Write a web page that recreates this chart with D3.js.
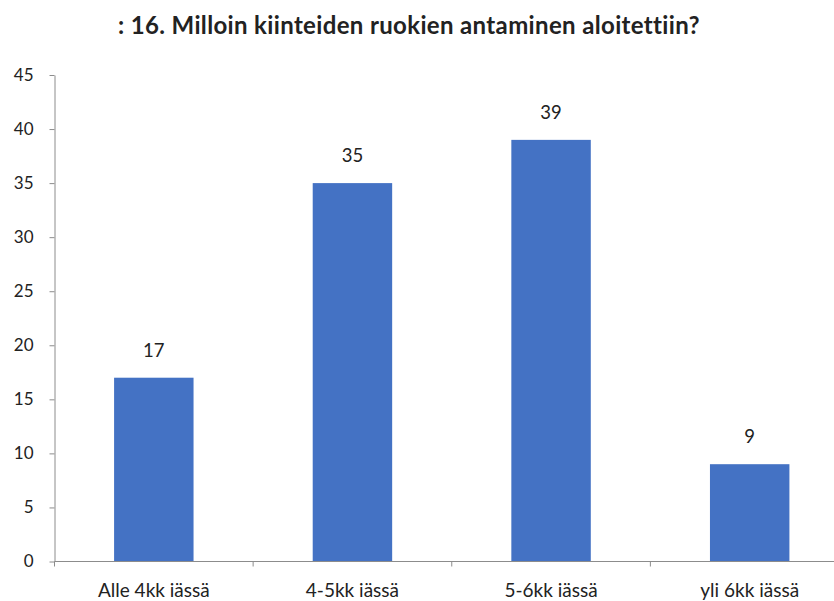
<!DOCTYPE html>
<html>
<head>
<meta charset="utf-8">
<script src="https://cdn.jsdelivr.net/npm/d3@7"></script>
<style>
  html, body { margin: 0; padding: 0; background: #ffffff; }
  svg { display: block; }
  text { font-family: Lato, "Open Sans", sans-serif; fill: #222; }
</style>
</head>
<body>
<script>
// Survey question and answer categories
const title = ": 16. Milloin kiinteiden ruokien antaminen aloitettiin?";
const categories = ["Alle 4kk iässä", "4-5kk iässä", "5-6kk iässä", "yli 6kk iässä"];
const values = [17, 35, 39, 9];
const yTicks = [0, 5, 10, 15, 20, 25, 30, 35, 40, 45];

const W = 834, H = 601;
const margin = { left: 54.5, top: 75, bottom: 39.5 };
const plotRight = 849;

const svg = d3.select("body").append("svg")
  .attr("width", W).attr("height", H);

const x = d3.scaleBand()
  .domain(categories)
  .range([margin.left, plotRight])
  .paddingInner(0.6)
  .paddingOuter(0.3);

const y = d3.scaleLinear()
  .domain([0, 45])
  .range([H - margin.bottom, margin.top]);

// Title
svg.append("text")
  .attr("x", 409)
  .attr("y", 34)
  .attr("text-anchor", "middle")
  .style("font-size", "24px")
  .style("font-weight", "bold")
  .style("letter-spacing", "0.35px")
  .text(title);

// Bars
svg.append("g").selectAll("rect")
  .data(values)
  .join("rect")
  .attr("x", (d, i) => x(categories[i]))
  .attr("width", x.bandwidth())
  .attr("y", d => y(d))
  .attr("height", d => y(0) - y(d))
  .attr("fill", "#4472C4");

// Value labels above bars
svg.append("g").selectAll("text")
  .data(values)
  .join("text")
  .attr("x", (d, i) => x(categories[i]) + x.bandwidth() / 2)
  .attr("y", d => y(d) - 21)
  .attr("text-anchor", "middle")
  .style("font-size", "18.5px")
  .text(d => d);

const axisColor = "#8c8c8c";

// Y axis
const yAxis = svg.append("g")
  .attr("transform", `translate(${margin.left},0)`)
  .call(d3.axisLeft(y).tickValues(yTicks).tickSize(5).tickPadding(16).tickSizeOuter(0));
yAxis.select(".domain").attr("stroke", axisColor);
yAxis.selectAll(".tick line").attr("stroke", axisColor);
yAxis.selectAll(".tick text").style("font-size", "17px").attr("fill", "#222");

// X axis with ticks at category boundaries
const xAxisG = svg.append("g")
  .attr("transform", `translate(0,${y(0)})`);
xAxisG.append("line")
  .attr("x1", margin.left).attr("x2", plotRight)
  .attr("stroke", axisColor);
const step = (plotRight - margin.left) / categories.length;
xAxisG.selectAll("line.tick")
  .data(d3.range(categories.length + 1))
  .join("line")
  .attr("class", "tick")
  .attr("x1", i => margin.left + i * step)
  .attr("x2", i => margin.left + i * step)
  .attr("y1", 0).attr("y2", 5)
  .attr("stroke", axisColor);
xAxisG.selectAll("text")
  .data(categories)
  .join("text")
  .attr("x", d => x(d) + x.bandwidth() / 2)
  .attr("y", 35)
  .attr("text-anchor", "middle")
  .style("font-size", "19px")
  .text(d => d);
</script>
</body>
</html>
